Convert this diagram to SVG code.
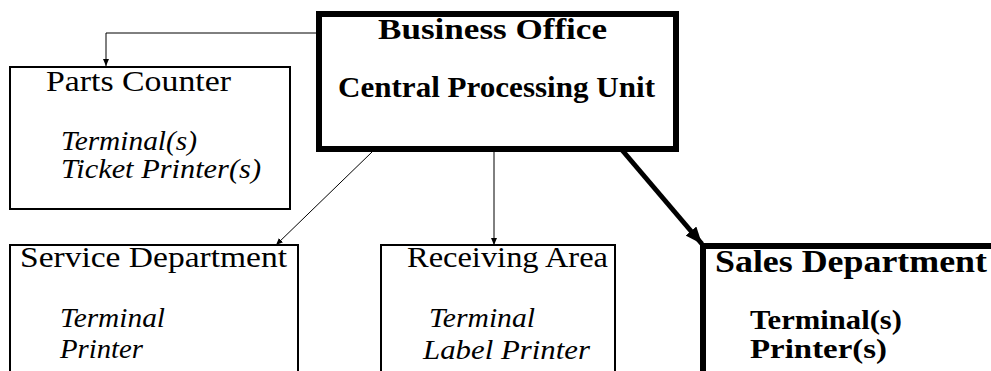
<svg xmlns="http://www.w3.org/2000/svg" width="991" height="371" viewBox="0 0 991 371">
<style>
.thin{fill:#fff;stroke:#000;stroke-width:2}
.thick{fill:#fff;stroke:#000;stroke-width:6}
.h{font-size:30px}
.b{font-weight:bold}
.i{font-style:italic;font-size:27px}
.bi{font-weight:bold;font-size:28px}
.c{fill:none;stroke:#000;stroke-width:1}
.ck{fill:none;stroke:#000;stroke-width:5}
</style>
<defs>
<marker id="a" markerUnits="userSpaceOnUse" markerWidth="8" markerHeight="6" refX="7" refY="3" orient="auto">
<path d="M0,0 L7,3 L0,6 z" fill="#000"/>
</marker>
<marker id="ak" markerUnits="userSpaceOnUse" markerWidth="18" markerHeight="14" refX="17" refY="7" orient="auto">
<path d="M0,0 L17,7 L0,14 z" fill="#000"/>
</marker>
</defs>
<g id="connectors">
<path class="c" d="M316,33 H106 V66" marker-end="url(#a)"/>
<path class="c" d="M372,152 L276,245" marker-end="url(#a)"/>
<path class="c" d="M494,152 V245" marker-end="url(#a)"/>
<path class="ck" d="M622,150 L702,244" marker-end="url(#ak)"/>
</g>
<g font-family="Liberation Serif, Times New Roman, serif" fill="#000">
<g id="business-office">
<rect class="thick" x="319" y="14" width="357" height="135"/>
<text class="h b" x="378" y="39" textLength="229" lengthAdjust="spacingAndGlyphs">Business Office</text>
<text class="h b" x="338" y="97" textLength="317" lengthAdjust="spacingAndGlyphs">Central Processing Unit</text>
</g>
<g id="parts-counter">
<rect class="thin" x="10" y="67" width="280" height="142"/>
<text class="h" x="46" y="91" textLength="185" lengthAdjust="spacingAndGlyphs">Parts Counter</text>
<text class="i" x="61" y="150" textLength="136" lengthAdjust="spacingAndGlyphs">Terminal(s)</text>
<text class="i" x="61" y="178" textLength="200" lengthAdjust="spacingAndGlyphs">Ticket Printer(s)</text>
</g>
<g id="service-department">
<rect class="thin" x="10" y="245" width="288" height="200"/>
<text class="h" x="20" y="267" textLength="267" lengthAdjust="spacingAndGlyphs">Service Department</text>
<text class="i" x="60" y="327" textLength="105" lengthAdjust="spacingAndGlyphs">Terminal</text>
<text class="i" x="60" y="358" textLength="83" lengthAdjust="spacingAndGlyphs">Printer</text>
</g>
<g id="receiving-area">
<rect class="thin" x="381" y="245" width="234" height="200"/>
<text class="h" x="407" y="267" textLength="201" lengthAdjust="spacingAndGlyphs">Receiving Area</text>
<text class="i" x="429" y="327" textLength="106" lengthAdjust="spacingAndGlyphs">Terminal</text>
<text class="i" x="423" y="359" textLength="167" lengthAdjust="spacingAndGlyphs">Label Printer</text>
</g>
<g id="sales-department">
<rect class="thick" x="703" y="246" width="400" height="200"/>
<text class="b" style="font-size:32px" x="715" y="272" textLength="272" lengthAdjust="spacingAndGlyphs">Sales Department</text>
<text class="bi" x="750" y="329" textLength="152" lengthAdjust="spacingAndGlyphs">Terminal(s)</text>
<text class="bi" x="750" y="358" textLength="137" lengthAdjust="spacingAndGlyphs">Printer(s)</text>
</g>
</g>
</svg>
